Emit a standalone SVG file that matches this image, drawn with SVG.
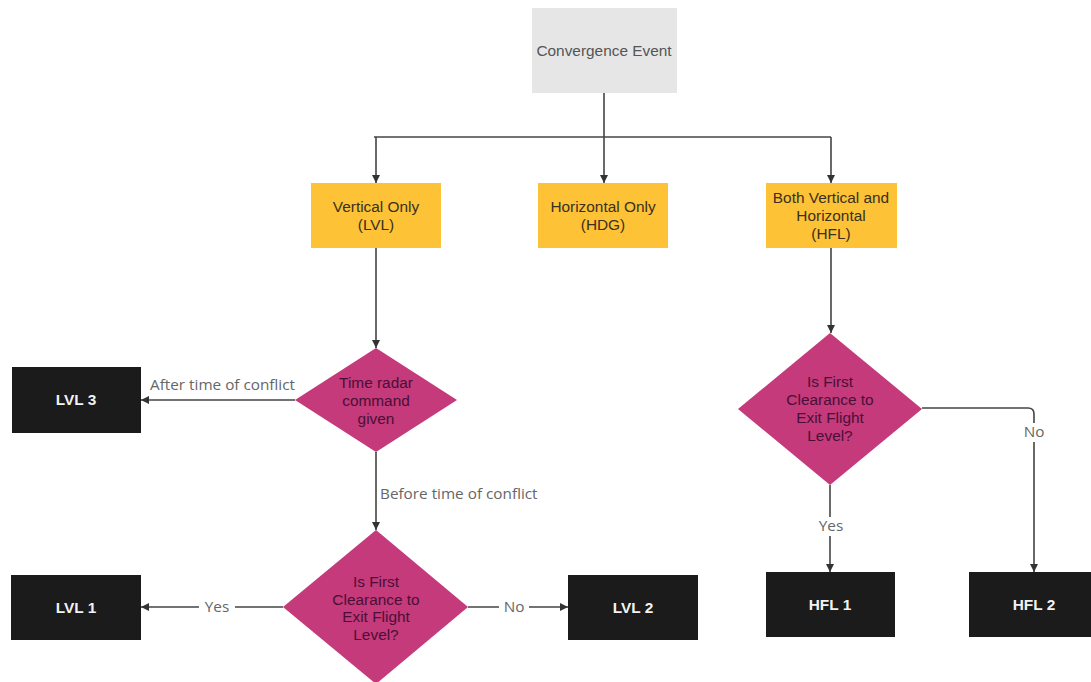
<svg xmlns="http://www.w3.org/2000/svg" width="1091" height="682" viewBox="0 0 1091 682">
<defs>
<marker id="arr" viewBox="0 0 10 10" refX="10" refY="5" markerWidth="8" markerHeight="8" markerUnits="userSpaceOnUse" orient="auto">
<path d="M0,0 L10,5 L0,10 z" fill="#333"/>
</marker>
</defs>
<style>
.ln{fill:none;stroke:#444;stroke-width:1.6}
.gray{fill:#e6e6e6}
.yel{fill:#fdc235}
.dia{fill:#c43a7a}
.blk{fill:#1b1b1b}
.t{font-family:"Liberation Sans",Arial,sans-serif;font-size:15.4px;text-anchor:middle}
.ty{fill:#3a3020}
.tg{fill:#555}
.td{fill:#4a0f38}
.tw{fill:#f2f2f2;font-weight:bold}
.lbl{font-family:"Open Sans","Noto Sans",sans-serif;font-size:15.3px;fill:#666}
</style>
<rect width="1091" height="682" fill="#ffffff"/>
<g id="connectors">
<path class="ln" d="M604,93 V137"/>
<path class="ln" d="M374,137 H831"/>
<path class="ln" d="M376,137 V183" marker-end="url(#arr)"/>
<path class="ln" d="M604,137 V183" marker-end="url(#arr)"/>
<path class="ln" d="M831,137 V183" marker-end="url(#arr)"/>
<path class="ln" d="M376,248 V348" marker-end="url(#arr)"/>
<path class="ln" d="M831,248 V333" marker-end="url(#arr)"/>
<path class="ln" d="M295,400 H141" marker-end="url(#arr)"/>
<path class="ln" d="M376,452 V530" marker-end="url(#arr)"/>
<path class="ln" d="M283,607 H141" marker-end="url(#arr)"/>
<path class="ln" d="M468,607 H568" marker-end="url(#arr)"/>
<path class="ln" d="M830,485 V572" marker-end="url(#arr)"/>
<path class="ln" d="M922,408 H1028 Q1034,408 1034,414 V572" marker-end="url(#arr)"/>
<rect x="149" y="375" width="150" height="19" fill="#ffffff"/>
<text class="lbl" x="150" y="390">After time of conflict</text>
<rect x="379" y="485" width="162" height="19" fill="#ffffff"/>
<text class="lbl" x="380" y="499">Before time of conflict</text>
<rect x="199" y="598" width="36" height="19" fill="#ffffff"/>
<text class="lbl" x="217" y="612" text-anchor="middle">Yes</text>
<rect x="499" y="598" width="30" height="19" fill="#ffffff"/>
<text class="lbl" x="514" y="612" text-anchor="middle">No</text>
<rect x="813" y="517" width="36" height="19" fill="#ffffff"/>
<text class="lbl" x="831" y="531" text-anchor="middle">Yes</text>
<rect x="1019" y="423" width="30" height="19" fill="#ffffff"/>
<text class="lbl" x="1034" y="437" text-anchor="middle">No</text>
</g>
<g id="convergence">
<rect class="gray" x="532" y="8" width="145" height="85"/>
<text class="t tg" x="604" y="56">Convergence Event</text>
</g>
<g id="vertical">
<rect class="yel" x="311" y="183" width="130" height="65"/>
<text class="t ty" x="376" y="212">Vertical Only</text>
<text class="t ty" x="376" y="230">(LVL)</text>
</g>
<g id="horizontal">
<rect class="yel" x="538" y="183" width="130" height="65"/>
<text class="t ty" x="603" y="212">Horizontal Only</text>
<text class="t ty" x="603" y="230">(HDG)</text>
</g>
<g id="both">
<rect class="yel" x="766" y="183" width="131" height="65"/>
<text class="t ty" x="831" y="203">Both Vertical and</text>
<text class="t ty" x="831" y="221">Horizontal</text>
<text class="t ty" x="831" y="239">(HFL)</text>
</g>
<g id="timeRadar">
<polygon class="dia" points="376,348 457,400 376,452 295,400"/>
<text class="t td" x="376" y="388">Time radar</text>
<text class="t td" x="376" y="406">command</text>
<text class="t td" x="376" y="424">given</text>
</g>
<g id="lvl3">
<rect class="blk" x="12" y="367" width="129" height="66"/>
<text class="t tw" x="76" y="405">LVL 3</text>
</g>
<g id="firstClearanceLVL">
<polygon class="dia" points="376,530 468,607 376,684 283,607"/>
<text class="t td" x="376" y="587">Is First</text>
<text class="t td" x="376" y="605">Clearance to</text>
<text class="t td" x="376" y="622">Exit Flight</text>
<text class="t td" x="376" y="640">Level?</text>
</g>
<g id="lvl1">
<rect class="blk" x="11" y="575" width="130" height="65"/>
<text class="t tw" x="76" y="613">LVL 1</text>
</g>
<g id="lvl2">
<rect class="blk" x="568" y="575" width="130" height="65"/>
<text class="t tw" x="633" y="613">LVL 2</text>
</g>
<g id="firstClearanceHFL">
<polygon class="dia" points="830,333 922,409 830,485 738,409"/>
<text class="t td" x="830" y="387">Is First</text>
<text class="t td" x="830" y="405">Clearance to</text>
<text class="t td" x="830" y="423">Exit Flight</text>
<text class="t td" x="830" y="441">Level?</text>
</g>
<g id="hfl1">
<rect class="blk" x="766" y="572" width="129" height="65"/>
<text class="t tw" x="830" y="610">HFL 1</text>
</g>
<g id="hfl2">
<rect class="blk" x="969" y="572" width="130" height="65"/>
<text class="t tw" x="1034" y="610">HFL 2</text>
</g>
</svg>
